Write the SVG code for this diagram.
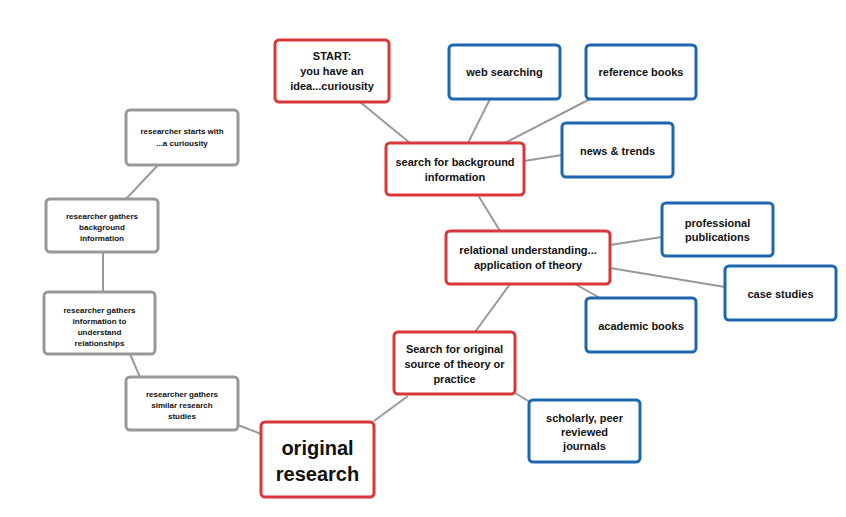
<svg xmlns="http://www.w3.org/2000/svg" width="846" height="517" viewBox="0 0 846 517">
<style>
rect{fill:#fff;stroke-width:3}
.r{stroke:#d9373a}.b{stroke:#1c67ad}.g{stroke:#999}
text{font-family:"Liberation Sans",Arial,sans-serif;font-weight:bold;text-anchor:middle;fill:#111}
.m{font-size:11px}.s{font-size:8px}
#c line{stroke:#999;stroke-width:2}
</style>
<rect x="0" y="0" width="846" height="517" style="fill:#fff;stroke:none"/>
<g id="c">
<line x1="360" y1="102" x2="410" y2="143"/>
<line x1="490" y1="99" x2="468" y2="143"/>
<line x1="590" y1="99" x2="505" y2="143"/>
<line x1="562" y1="155" x2="524" y2="161"/>
<line x1="478" y1="195" x2="500" y2="231"/>
<line x1="610" y1="245" x2="662" y2="237"/>
<line x1="610" y1="268" x2="725" y2="287"/>
<line x1="575" y1="284" x2="600" y2="298"/>
<line x1="510" y1="284" x2="475" y2="332"/>
<line x1="515" y1="393" x2="535" y2="405"/>
<line x1="408" y1="396" x2="374" y2="421"/>
<line x1="238" y1="425" x2="261" y2="434"/>
<line x1="158" y1="165" x2="126" y2="199"/>
<line x1="103" y1="252" x2="103" y2="292"/>
<line x1="130" y1="354" x2="140" y2="377"/>
</g>
<g id="start"><rect class="r" x="275" y="40" width="114" height="62" rx="4"/><text class="m" x="332" y="60">START:</text><text class="m" x="332" y="75">you have an</text><text class="m" x="332" y="90">idea...curiousity</text></g>
<g id="web"><rect class="b" x="449" y="45" width="111" height="54" rx="4"/><text class="m" x="504.5" y="76">web searching</text></g>
<g id="refbooks"><rect class="b" x="586" y="45" width="110" height="54" rx="4"/><text class="m" x="641" y="76">reference books</text></g>
<g id="news"><rect class="b" x="562" y="123" width="111" height="54" rx="4"/><text class="m" x="617.5" y="155">news &amp; trends</text></g>
<g id="searchbg"><rect class="r" x="386" y="143" width="138" height="52" rx="4"/><text class="m" x="455" y="166">search for background</text><text class="m" x="455" y="181">information</text></g>
<g id="prof"><rect class="b" x="662" y="203" width="111" height="53" rx="4"/><text class="m" x="717.5" y="227">professional</text><text class="m" x="717.5" y="241">publications</text></g>
<g id="relational"><rect class="r" x="446" y="231" width="164" height="53" rx="4"/><text class="m" x="528" y="254">relational understanding...</text><text class="m" x="528" y="269">application of theory</text></g>
<g id="case"><rect class="b" x="725" y="266" width="111" height="54" rx="4"/><text class="m" x="780.5" y="298">case studies</text></g>
<g id="academic"><rect class="b" x="586" y="298" width="110" height="54" rx="4"/><text class="m" x="641" y="330">academic books</text></g>
<g id="searchorig"><rect class="r" x="394" y="332" width="121" height="62" rx="4"/><text class="m" x="454.5" y="353">Search for original</text><text class="m" x="454.5" y="368">source of theory or</text><text class="m" x="454.5" y="383">practice</text></g>
<g id="scholarly"><rect class="b" x="529" y="400" width="111" height="62" rx="4"/><text class="m" x="584.5" y="422">scholarly, peer</text><text class="m" x="584.5" y="436">reviewed</text><text class="m" x="584.5" y="450">journals</text></g>
<g id="orig"><rect class="r" x="261" y="422" width="113" height="75" rx="4"/><text x="317.5" y="455" style="font-size:20px">original</text><text x="317.5" y="481" style="font-size:20px">research</text></g>
<g id="g1"><rect class="g" x="126" y="110" width="112" height="55" rx="4"/><text class="s" x="182" y="134">researcher starts with</text><text class="s" x="182" y="146">...a curiousity</text></g>
<g id="g2"><rect class="g" x="46" y="199" width="112" height="53" rx="4"/><text class="s" x="102" y="219">researcher gathers</text><text class="s" x="102" y="230">background</text><text class="s" x="102" y="241">information</text></g>
<g id="g3"><rect class="g" x="44" y="292" width="111" height="62" rx="4"/><text class="s" x="99.5" y="313">researcher gathers</text><text class="s" x="99.5" y="324">information to</text><text class="s" x="99.5" y="335">understand</text><text class="s" x="99.5" y="346">relationships</text></g>
<g id="g4"><rect class="g" x="126" y="377" width="112" height="53" rx="4"/><text class="s" x="182" y="397">researcher gathers</text><text class="s" x="182" y="408">similar research</text><text class="s" x="182" y="419">studies</text></g>
</svg>
